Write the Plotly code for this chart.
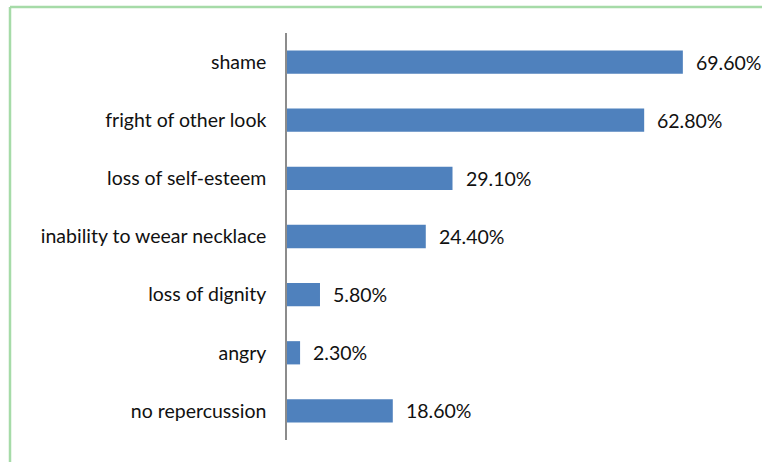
import plotly.graph_objects as go

categories = ["shame", "fright of other look", "loss of self-esteem", "inability to weear necklace",
              "loss of dignity", "angry", "no repercussion"]
values = [69.6, 62.8, 29.1, 24.4, 5.8, 2.3, 18.6]
labels = ["69.60%", "62.80%", "29.10%", "24.40%", "5.80%", "2.30%", "18.60%"]

W, H = 762, 462
ml, mr, mt, mb = 287, 20, 33, 22
x_max = 80
FONT = "Lato"
FS = 19.5

fig = go.Figure(go.Bar(
    y=categories, x=values, orientation="h",
    marker=dict(color="#4F81BD", line=dict(width=0)),
    hoverinfo="skip",
))

for c, v, t in zip(categories, values, labels):
    fig.add_annotation(x=v, y=c, text=t, showarrow=False, xanchor="left",
                       xshift=11, font=dict(size=FS, color="#111111", family=FONT))

pw = W - ml - mr
ph = H - mt - mb
fig.add_shape(type="line", xref="paper", yref="paper",
              x0=(10 - ml) / pw, x1=(W + 5 - ml) / pw,
              y0=1 + (mt - 7) / ph, y1=1 + (mt - 7) / ph,
              line=dict(color="#A6DBA8", width=2.5))
fig.add_shape(type="line", xref="paper", yref="paper",
              x0=(10 - ml) / pw, x1=(10 - ml) / pw,
              y0=1 + (mt - 7) / ph, y1=-(mb + 5) / ph,
              line=dict(color="#A6DBA8", width=2.5))

fig.update_layout(
    width=W, height=H,
    margin=dict(l=ml, r=mr, t=mt, b=mb),
    paper_bgcolor="white", plot_bgcolor="white",
    bargap=0.6, showlegend=False,
    font=dict(family=FONT, size=FS, color="#111111"),
    xaxis=dict(visible=False, range=[0, x_max], fixedrange=True),
    yaxis=dict(autorange="reversed", showline=True, linecolor="#8C8C8C", linewidth=1.5,
               ticks="", showgrid=False, ticklabelstandoff=15, fixedrange=True,
               tickfont=dict(family=FONT, size=FS, color="#111111")),
)

fig.write_html("out.html", config={"displayModeBar": False},
               post_script="document.body.style.margin='0';")
